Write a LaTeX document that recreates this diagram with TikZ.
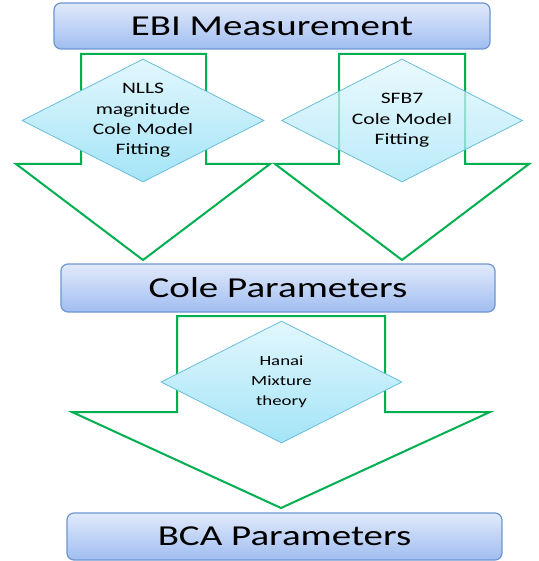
\documentclass[tikz,border=0pt]{standalone}
\usepackage{fontspec}
\setmainfont{Carlito}
\usetikzlibrary{shapes.geometric}

\definecolor{boxtop}{RGB}{225,234,251}
\definecolor{boxbot}{RGB}{160,189,240}
\definecolor{boxline}{RGB}{110,150,210}
\definecolor{dtop}{RGB}{226,247,253}
\definecolor{dbot}{RGB}{163,228,247}
\definecolor{dline}{RGB}{105,190,218}
\definecolor{arrgreen}{RGB}{0,176,80}

\newcommand{\wtxt}[1]{\scalebox{1.35}[1]{#1}}

\tikzset{
  stepbox/.style={draw=boxline, line width=1.2bp, rounded corners=7bp,
    top color=boxtop, bottom color=boxbot, minimum width=435bp,
    minimum height=47bp, inner sep=0pt, font=\fontsize{29}{34}\selectfont},
  fitdiamond/.style={diamond, draw=dline, line width=0.8bp, top color=dtop,
    bottom color=dbot, inner sep=0pt, minimum width=242bp, minimum height=123bp},
  fittext/.style={align=center, xscale=1.35, inner sep=0pt,
    font=\fontsize{16}{20.5}\selectfont},
  blockarrow/.style={draw=arrgreen, line width=2bp, line join=miter}
}

\begin{document}
\begin{tikzpicture}[x=1bp,y=-1bp]
\useasboundingbox (0,0) rectangle (539,561);

% first step: two fits
\draw[blockarrow] (81,54) -- (206,54) -- (206,164) -- (270,164) -- (143,260) -- (16,164) -- (81,164) -- cycle;
\node[fitdiamond] (nlls) at (143,120.5) {};
\node[fittext] (nllstext) at (nlls) {NLLS\\magnitude\\Cole Model\\Fitting};

\draw[blockarrow] (339,54) -- (465,54) -- (465,164) -- (529,164) -- (402,260) -- (275,164) -- (339,164) -- cycle;
\node[fitdiamond, minimum width=241bp, fill opacity=0.75] (sfb) at (402,120.5) {};
\node[fittext] (sfbtext) at (sfb) {SFB7\\Cole Model\\Fitting};

% second step
\draw[blockarrow] (177,316) -- (385,316) -- (385,412) -- (490,412) -- (281,508) -- (72,412) -- (177,412) -- cycle;
\node[fitdiamond, minimum width=241bp, minimum height=122bp] (hanai) at (281.5,382) {};
\node[fittext, font=\fontsize{14}{20}\selectfont] (hanaitext) at (hanai) {Hanai\\Mixture\\theory};

% boxes
\node[stepbox, minimum width=436bp, minimum height=46bp] (ebi) at (272,26) {\wtxt{EBI Measurement}};
\node[stepbox, minimum width=434bp, minimum height=48bp] (cole) at (278,288) {\wtxt{Cole Parameters}};
\node[stepbox] (bca) at (284.5,536.5) {\wtxt{BCA Parameters}};

\end{tikzpicture}
\end{document}
